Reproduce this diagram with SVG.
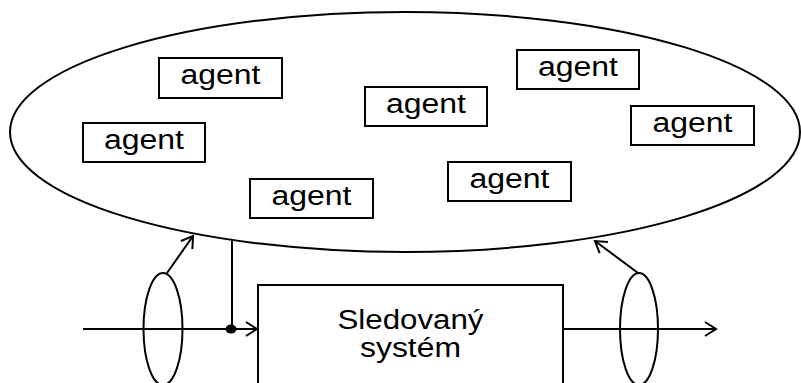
<svg xmlns="http://www.w3.org/2000/svg" width="801" height="383" viewBox="0 0 801 383">
  <style>
    .ln { fill: none; stroke: #000; stroke-width: 2; }
    .box { fill: #fff; stroke: #000; stroke-width: 2; }
    .t { font-family: "Liberation Sans", Arial, sans-serif; font-size: 27px; fill: #000; text-anchor: middle; }
  </style>
  <defs>
    <marker id="arr" viewBox="-13 -9 15 18" refX="0" refY="0" markerWidth="15" markerHeight="18" markerUnits="userSpaceOnUse" orient="auto">
      <path d="M-11,-7 L0,0 L-11,7" fill="none" stroke="#000" stroke-width="2"/>
    </marker>
  </defs>
  <rect width="801" height="383" fill="#fff"/>
  <g id="env">
    <ellipse cx="405" cy="132" rx="395" ry="120" class="ln"/>
  </g>
  <g id="agent1"><rect x="159" y="58" width="123" height="40" class="box"/><text x="220.5" y="84" class="t" textLength="80" lengthAdjust="spacingAndGlyphs">agent</text></g>
  <g id="agent2"><rect x="83" y="123" width="122" height="39" class="box"/><text x="144" y="149" class="t" textLength="80" lengthAdjust="spacingAndGlyphs">agent</text></g>
  <g id="agent3"><rect x="250" y="179" width="123" height="39" class="box"/><text x="311.5" y="205" class="t" textLength="80" lengthAdjust="spacingAndGlyphs">agent</text></g>
  <g id="agent4"><rect x="365" y="87" width="122" height="39" class="box"/><text x="426" y="113" class="t" textLength="80" lengthAdjust="spacingAndGlyphs">agent</text></g>
  <g id="agent5"><rect x="517" y="50" width="122" height="39" class="box"/><text x="578" y="76" class="t" textLength="80" lengthAdjust="spacingAndGlyphs">agent</text></g>
  <g id="agent6"><rect x="631" y="106" width="123" height="39" class="box"/><text x="692.5" y="132" class="t" textLength="80" lengthAdjust="spacingAndGlyphs">agent</text></g>
  <g id="agent7"><rect x="448" y="162" width="123" height="39" class="box"/><text x="509.5" y="188" class="t" textLength="80" lengthAdjust="spacingAndGlyphs">agent</text></g>
  <g id="system">
    <rect x="258" y="285" width="305" height="110" class="box"/>
    <text x="410.5" y="329" class="t" textLength="146" lengthAdjust="spacingAndGlyphs">Sledovaný</text>
    <text x="410.5" y="357" class="t" textLength="101" lengthAdjust="spacingAndGlyphs">systém</text>
  </g>
  <g id="sensor-in"><ellipse cx="163" cy="329" rx="19.5" ry="56" class="ln"/></g>
  <g id="sensor-out"><ellipse cx="639" cy="329" rx="19" ry="56" class="ln"/></g>
  <g id="connectors">
    <line x1="83" y1="329" x2="257" y2="329" class="ln" marker-end="url(#arr)"/>
    <line x1="563" y1="329" x2="716" y2="329" class="ln" marker-end="url(#arr)"/>
    <line x1="232" y1="329" x2="232" y2="241" class="ln"/>
    <ellipse cx="231" cy="329" rx="5.5" ry="4.5" fill="#000"/>
    <line x1="167" y1="273" x2="193" y2="236" class="ln" marker-end="url(#arr)"/>
    <line x1="638" y1="273" x2="595" y2="241" class="ln" marker-end="url(#arr)"/>
  </g>
</svg>
